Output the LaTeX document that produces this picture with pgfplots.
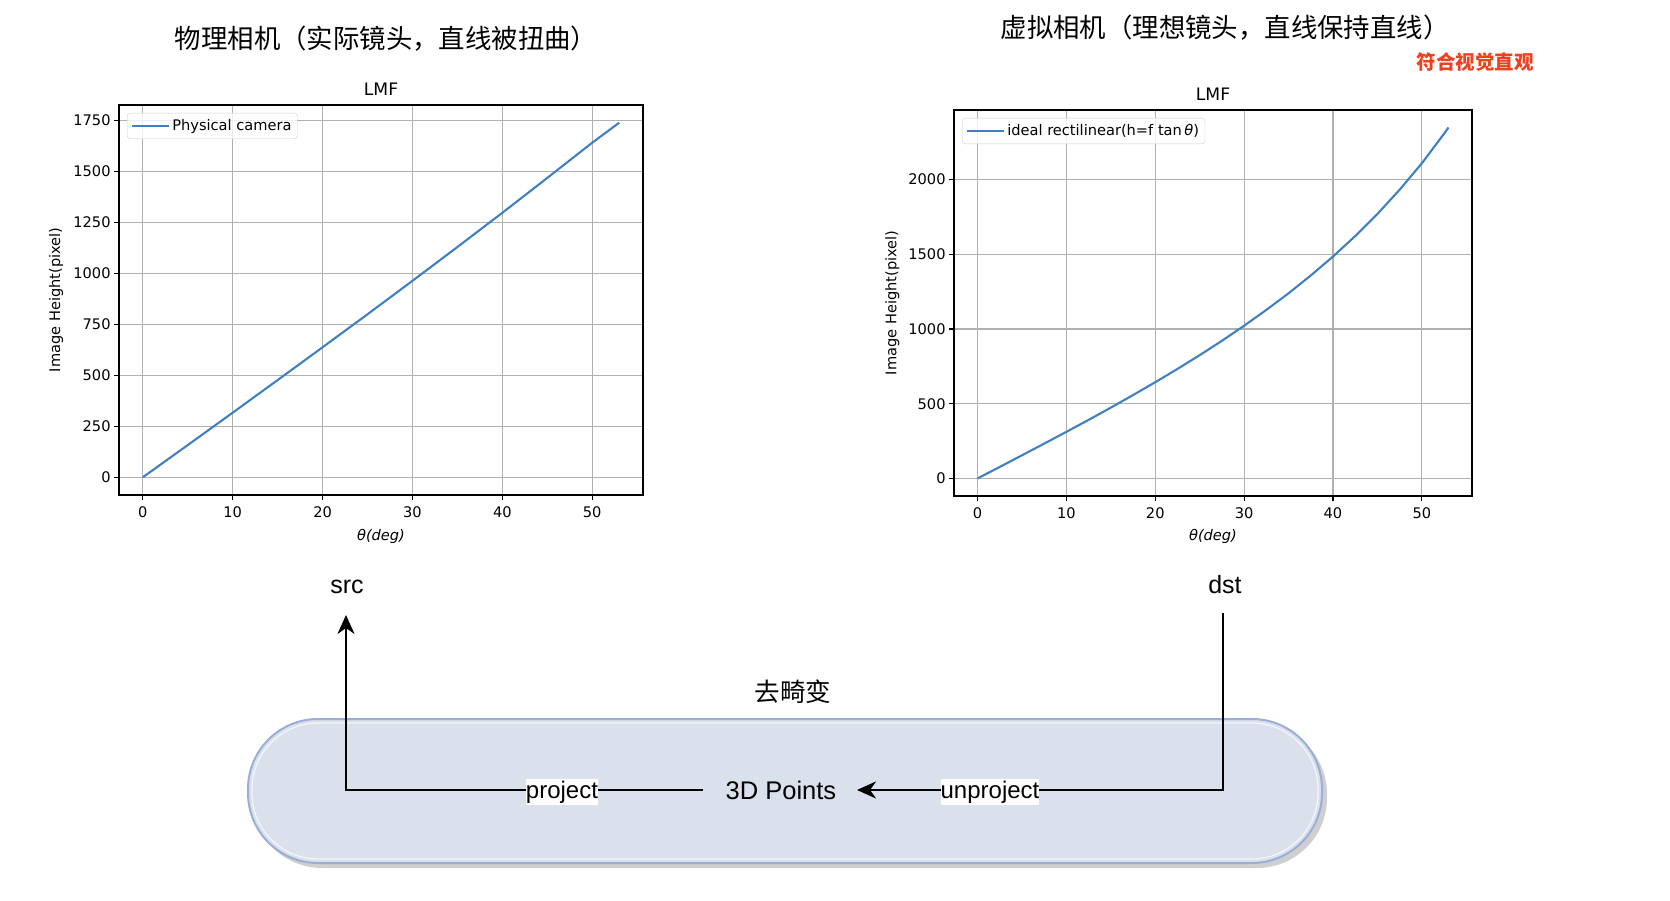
\documentclass[border=0pt]{standalone}
\usepackage{pgfplots}
\pgfplotsset{compat=1.18}
\usepackage{fontspec}
\setmainfont{DejaVu Sans}
\newfontfamily\cjk{Noto Sans CJK SC}
\newfontfamily\arialf{Liberation Sans}
\usetikzlibrary{arrows.meta}
\definecolor{mplblue}{HTML}{4080C0}
\definecolor{gridc}{HTML}{B0B0B0}
\definecolor{pillfill}{HTML}{DAE0EC}
\definecolor{pilldraw}{HTML}{9AAED8}
\definecolor{shadowc}{HTML}{CFCFCF}
\definecolor{redt}{HTML}{F04020}

\pgfplotsset{mplstyle/.style={
  scale only axis,
  axis line style={line width=1.1pt},
  tick align=outside, tick pos=left, major tick length=4.9pt,
  every tick/.style={black, line width=1.1pt},
  grid=major, major grid style={color=gridc, line width=1.1pt},
  tick label style={font=\fontsize{14.6}{17}\selectfont},
  xticklabel style={yshift=-3pt},
  /pgf/number format/assume math mode=true,
  /pgf/number format/1000 sep={},
  scaled ticks=false,
  title style={font=\fontsize{17.2}{20}\selectfont, at={(0.5,1)}, anchor=base, yshift=3pt},
  label style={font=\fontsize{14.6}{17}\selectfont},
  xtick={0,10,...,50},
  xmin=-2.65, xmax=55.65,
  legend style={at={(axis description cs:0,1)}, anchor=north west, xshift=8pt, yshift=-8pt,
    draw=black!20, rounded corners=3pt, font=\fontsize{14.6}{17}\selectfont,
    fill=white, fill opacity=0.8, text opacity=1, inner xsep=4pt, inner ysep=4.5pt},
  legend cell align=left,
  legend image code/.code={\draw[#1,line width=2.1pt] (0pt,0pt) -- (27pt,0pt); \path (0pt,0pt) -- (37pt,0pt);},
}}

\begin{document}
\begin{tikzpicture}[x=1pt,y=1pt]
\useasboundingbox (0,0) rectangle (1670,900);

% Titles
\node[font=\cjk\fontsize{26.4}{30}\selectfont] at (386,861) {物理相机（实际镜头，直线被扭曲）};
\node[font=\cjk\fontsize{26.4}{30}\selectfont] at (1225,872) {虚拟相机（理想镜头，直线保持直线）};
\node[font=\cjk\bfseries\fontsize{19.5}{24}\selectfont, text=redt] at (1475,838) {符合视觉直观};

% Left plot
\begin{axis}[mplstyle,
  at={(119pt,405pt)}, anchor=south west, width=524pt, height=390pt,
  ymin=-87, ymax=1827, ytick={0,250,...,1750},
  title={LMF},
  xlabel={\textit{θ(deg)}}, ylabel={Image Height(pixel)},
  xlabel style={at={(axis description cs:0.5,-0.105)}, anchor=center},
  ylabel style={at={(axis description cs:-0.12,0.5)}, anchor=center},
]
\addplot[mplblue, line width=2.1pt] coordinates {
 (0,0) (5,158) (10,317) (15,477) (20,638) (25,800) (30,964) (35,1130) (40,1298) (45,1469) (50,1642) (53,1740)};
\addlegendentry{Physical camera}
\end{axis}

% Right plot
\begin{axis}[mplstyle,
  at={(954pt,404pt)}, anchor=south west, width=518pt, height=386pt,
  ymin=-117.5, ymax=2466, ytick={0,500,...,2000},
  title={LMF},
  xlabel={\textit{θ(deg)}}, ylabel={Image Height(pixel)},
  xlabel style={at={(axis description cs:0.5,-0.105)}, anchor=center},
  ylabel style={at={(axis description cs:-0.119,0.5)}, anchor=center},
]
\addplot[mplblue, line width=2.1pt] coordinates {
 (0,0) (2.5,77) (5,155) (7.5,233) (10,312) (12.5,392) (15,474) (17.5,558) (20,644) (22.5,733)
 (25,825) (27.5,921) (30,1022) (32.5,1128) (35,1239) (37.5,1358) (40,1485) (42.5,1622)
 (45,1770) (47.5,1932) (50,2109) (52.5,2307) (53,2349)};
\addlegendentry{ideal rectilinear(h=f tan\,\textit{θ})}
\end{axis}

% Pill
\fill[shadowc, rounded corners=70pt] (252,32) rectangle (1327,176);
\draw[pilldraw, fill=pillfill, line width=2pt, rounded corners=70pt] (248,37) rectangle (1322,181);
\draw[white!70!pillfill, line width=1.2pt, rounded corners=66pt] (252,41) rectangle (1318,177);

\node[font=\cjk\fontsize{25.5}{30}\selectfont] at (793,208) {去畸变};
\node[font=\arialf\fontsize{25}{30}\selectfont] at (347,313) {src};
\node[font=\arialf\fontsize{25}{30}\selectfont] at (1225,315) {dst};

\draw[line width=2.2pt, -{Stealth[length=19pt,width=17pt,inset=6pt]}] (703,110) -- (346,110) -- (346,285);
\draw[line width=2.2pt, -{Stealth[length=19pt,width=17pt,inset=6pt]}] (1223,287) -- (1223,110) -- (857,110);

\node[font=\arialf\fontsize{24}{28}\selectfont, fill=white, inner xsep=0pt, inner ysep=2pt] at (562,108) {project};
\node[font=\arialf\fontsize{24}{28}\selectfont, fill=white, inner xsep=0pt, inner ysep=2pt] at (990,108) {unproject};
\node[font=\arialf\fontsize{25.5}{30}\selectfont] at (781,110) {3D Points};
\end{tikzpicture}
\end{document}
